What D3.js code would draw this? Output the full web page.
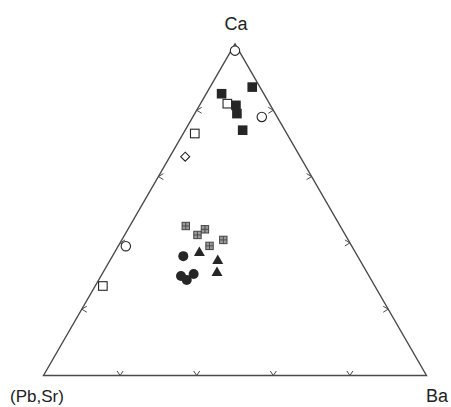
<!DOCTYPE html>
<html>
<head>
<meta charset="utf-8">
<script src="https://cdn.jsdelivr.net/npm/d3@7/dist/d3.min.js"></script>
<style>
  html, body { margin: 0; padding: 0; background: #fff; }
  svg { display: block; }
  text { font-family: "Liberation Sans", Arial, Helvetica, sans-serif; fill: #222; }
</style>
</head>
<body>
<svg id="chart" width="451" height="407"></svg>
<script>
// Each entry: [Ca, Ba, (Pb,Sr)] fractions
const vertexLabels = ["(Pb,Sr)", "Ba", "Ca"];
const tickValues = [0.2, 0.4, 0.6, 0.8];

const filledSquares = [
  [0.85, 0.04, 0.11],
  [0.87, 0.11, 0.02],
  [0.815, 0.095, 0.09],
  [0.79, 0.11, 0.10],
  [0.74, 0.15, 0.11]
];
const openSquares = [
  [0.82, 0.07, 0.11],
  [0.73, 0.03, 0.24],
  [0.27, 0.02, 0.71]
];
const openCircles = [
  [0.98, 0.01, 0.01],
  [0.78, 0.18, 0.04],
  [0.39, 0.02, 0.59]
];
const openDiamonds = [
  [0.66, 0.04, 0.30]
];
const hatchedSquares = [
  [0.451, 0.146, 0.403],
  [0.441, 0.201, 0.358],
  [0.424, 0.190, 0.386],
  [0.409, 0.265, 0.326],
  [0.391, 0.238, 0.371]
];
const filledCircles = [
  [0.360, 0.185, 0.455],
  [0.300, 0.209, 0.491],
  [0.288, 0.230, 0.482],
  [0.306, 0.239, 0.455]
];
const filledTriangles = [
  [0.370, 0.222, 0.408],
  [0.346, 0.282, 0.372],
  [0.310, 0.298, 0.392]
];

const svg = d3.select("#chart");
const xScale = d3.scaleLinear().domain([0, 1]).range([43.5, 426.5]);
const yScale = d3.scaleLinear().domain([0, 1]).range([375.5, 44]);

function proj(d) {
  const ca = d[0], ba = d[1], ps = d[2];
  const s = ca + ba + ps;
  const c = ca / s, b = ba / s;
  return [xScale(b + c / 2), yScale(c)];
}

const lineColor = "#4a4a4a";
const markColor = "#262626";

// Triangle frame
const corners = [[0, 0, 1], [0, 1, 0], [1, 0, 0]].map(proj);
svg.append("path")
  .attr("d", d3.line()(corners) + "Z")
  .attr("fill", "none")
  .attr("stroke", lineColor)
  .attr("stroke-width", 1.4);

// Chevron ticks
const tickG = svg.append("g").attr("stroke", lineColor).attr("stroke-width", 1).attr("fill", "none");
tickValues.forEach(t => {
  // bottom edge: v
  let p = proj([0, t, 1 - t]);
  tickG.append("path").attr("d", `M${p[0]-3},${p[1]-4.5}L${p[0]},${p[1]}L${p[0]+3},${p[1]-4.5}`);
  // left edge: <
  p = proj([t, 0, 1 - t]);
  tickG.append("path").attr("d", `M${p[0]+5},${p[1]-3}L${p[0]},${p[1]}L${p[0]+5},${p[1]+3}`);
  // right edge: >
  p = proj([t, 1 - t, 0]);
  tickG.append("path").attr("d", `M${p[0]-5},${p[1]-3}L${p[0]},${p[1]}L${p[0]-5},${p[1]+3}`);
});

// Vertex labels
svg.append("text").attr("x", 236).attr("y", 30).attr("text-anchor", "middle")
  .attr("font-size", 18).text(vertexLabels[2]);
svg.append("text").attr("x", 10).attr("y", 402).attr("text-anchor", "start")
  .attr("font-size", 17).text(vertexLabels[0]);
svg.append("text").attr("x", 437).attr("y", 402).attr("text-anchor", "middle")
  .attr("font-size", 18).text(vertexLabels[1]);

const marks = svg.append("g");

// Open squares
marks.selectAll(".osq").data(openSquares).join("rect")
  .attr("x", d => proj(d)[0] - 4.3).attr("y", d => proj(d)[1] - 4.3)
  .attr("width", 8.6).attr("height", 8.6)
  .attr("fill", "#fff").attr("stroke", markColor).attr("stroke-width", 1.1);

// Filled squares
marks.selectAll(".fsq").data(filledSquares).join("rect")
  .attr("x", d => proj(d)[0] - 4.8).attr("y", d => proj(d)[1] - 4.8)
  .attr("width", 9.6).attr("height", 9.6)
  .attr("fill", markColor);

// Open circles
marks.selectAll(".oc").data(openCircles).join("circle")
  .attr("cx", d => proj(d)[0]).attr("cy", d => proj(d)[1]).attr("r", 4.7)
  .attr("fill", "#fff").attr("stroke", markColor).attr("stroke-width", 1.1);

// Open diamonds
marks.selectAll(".od").data(openDiamonds).join("path")
  .attr("d", d => { const p = proj(d); return `M${p[0]},${p[1]-4.5}L${p[0]+4.5},${p[1]}L${p[0]},${p[1]+4.5}L${p[0]-4.5},${p[1]}Z`; })
  .attr("fill", "#fff").attr("stroke", markColor).attr("stroke-width", 1.1);

// Hatched squares
const hs = marks.selectAll(".hs").data(hatchedSquares).join("g")
  .attr("transform", d => `translate(${proj(d)[0]},${proj(d)[1]})`);
hs.append("rect").attr("x", -3.7).attr("y", -3.7).attr("width", 7.4).attr("height", 7.4)
  .attr("fill", "#9a9a9a").attr("stroke", "#444").attr("stroke-width", 1);
hs.append("path").attr("d", "M-3.7,0H3.7M0,-3.7V3.7").attr("stroke", "#444").attr("stroke-width", 0.9);

// Filled circles
marks.selectAll(".fc").data(filledCircles).join("circle")
  .attr("cx", d => proj(d)[0]).attr("cy", d => proj(d)[1]).attr("r", 5)
  .attr("fill", markColor);

// Filled triangles
const tri = d3.symbol().type(d3.symbolTriangle).size(52);
marks.selectAll(".ft").data(filledTriangles).join("path")
  .attr("d", tri)
  .attr("transform", d => `translate(${proj(d)[0]},${proj(d)[1]})`)
  .attr("fill", markColor);
</script>
</body>
</html>
